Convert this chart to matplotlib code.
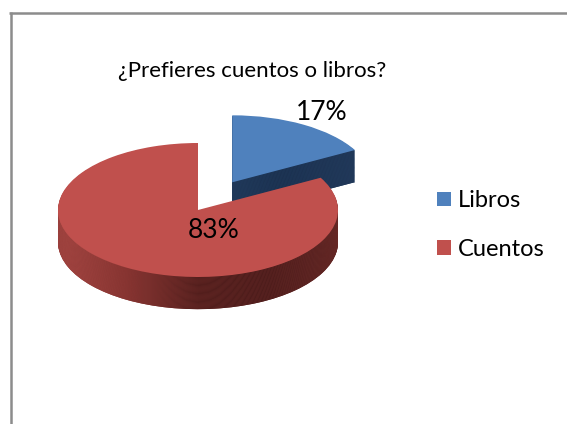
import numpy as np
import matplotlib
matplotlib.use("Agg")
import matplotlib.pyplot as plt
from matplotlib.colors import LinearSegmentedColormap
from matplotlib.lines import Line2D

# ---- data ----
categories = ["Libros", "Cuentos"]
values = [17, 83]
title = "¿Prefieres cuentos o libros?"

# ---- style ----
top_colors = ["#4F81BD", "#C0504D"]
side_colors = ["#243F61", "#7A302D"]
side_grads = [["#2E4F78", "#243F61", "#1B3150", "#22395A"],
              ["#B04C48", "#8A3633", "#521F1D", "#4A1C1B", "#5C2523"]]
FONT = "Lato"

W, H = 567, 424
fig = plt.figure(figsize=(W / 100, H / 100), dpi=100)
fig.patch.set_facecolor("white")

# chart-area frame
fig.add_artist(Line2D([9 / W, 1.0], [1 - 13 / H, 1 - 13 / H], color="#8C8C8C",
                      lw=1.8, transform=fig.transFigure, solid_capstyle="butt"))
fig.add_artist(Line2D([10.5 / W, 10.5 / W], [0.0, 1 - 12 / H], color="#8C8C8C",
                      lw=1.8, transform=fig.transFigure, solid_capstyle="butt"))

# pie geometry (pixels per data unit)
rx, ry = 140.0, 67.0
cx, cy = 198.0, 210.0
xl = (-1.3, 1.3)
yl = (-2.0, 1.5)
ax = fig.add_axes([(cx + xl[0] * rx) / W, (H - cy + yl[0] * ry) / H,
                   (xl[1] - xl[0]) * rx / W, (yl[1] - yl[0]) * ry / H])

explode = [0.48, 0.0]
depth = 0.48
N = 36
grad = np.linspace(0, 1, 256)[None, :]
cmaps = [LinearSegmentedColormap.from_list("s%d" % i, c) for i, c in enumerate(side_grads)]

for k in range(N, 0, -1):
    off = depth * k / N
    wedges, _ = ax.pie(values, explode=explode, startangle=90, counterclock=False,
                       center=(0, -off), colors=side_colors,
                       wedgeprops=dict(linewidth=0, antialiased=True))
    for j, w in enumerate(wedges):
        base = 1 + 10 * j + (N - k) * 0.01
        w.set_zorder(base)
        im = ax.imshow(grad, cmap=cmaps[j], aspect="auto",
                       extent=(-1.0 + (0.25 if j == 0 else 0), 1.0 + (0.25 if j == 0 else 0), -3, 2),
                       zorder=base + 0.005)
        im.set_clip_path(w)

tops, _ = ax.pie(values, explode=explode, startangle=90, counterclock=False,
                 center=(0, 0), colors=top_colors, wedgeprops=dict(linewidth=0))
for j, w in enumerate(tops):
    w.set_zorder(5 + 10 * j)
    w.set_label(categories[j])

ax.set_aspect("auto")
ax.set_xlim(*xl)
ax.set_ylim(*yl)
ax.axis("off")

# percentage labels
total = float(sum(values))
pct = ["%d%%" % round(v / total * 100) for v in values]
label_pos = [(322, 120), (214, 238)]
for p, (px, py) in zip(pct, label_pos):
    fig.text(px / W, 1 - py / H, p, ha="center", va="baseline",
             fontsize=19, family=FONT, color="black", zorder=30)

# title
fig.text(252 / W, 1 - 77 / H, title, ha="center", va="baseline",
         fontsize=16, family=FONT, color="black")

# legend
leg = fig.legend(handles=tops, labels=categories, loc="center left",
                 bbox_to_anchor=(437 / W, 1 - 225 / H), frameon=False,
                 prop=dict(family=FONT, size=17), handlelength=0.58,
                 handleheight=0.58, handletextpad=0.3, labelspacing=1.15,
                 borderpad=0, borderaxespad=0)

fig.savefig("out.png", dpi=100, facecolor="white")
